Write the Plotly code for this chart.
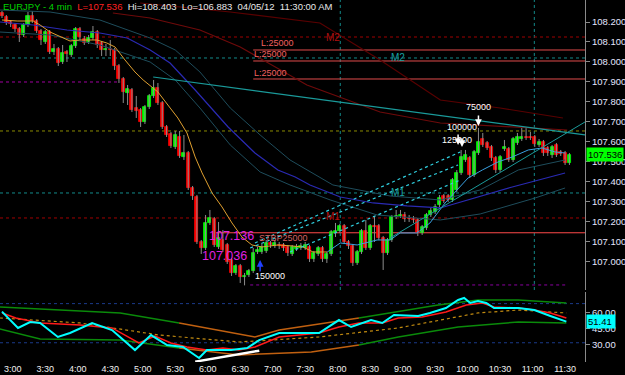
import plotly.graph_objects as go

# ---------------- price data (4-min bars) ----------------
open_ = [108.245,108.225,108.200,108.185,108.165,108.135,108.185,108.230,108.205,108.155,
         108.100,108.150,108.050,108.065,108.000,108.050,108.035,108.080,108.165,108.115,
         108.100,108.120,108.150,108.095,108.060,108.065,108.060,107.980,107.915,107.845,
         107.860,107.770,107.760,107.700,107.775,107.830,107.870,107.795,107.675,107.640,
         107.575,107.625,107.525,107.545,107.370,107.325,107.100,107.070,107.195,107.215,
         107.075,107.110,107.085,107.010,106.945,106.980,106.925,106.935,106.955,107.050,
         107.050,107.055,107.095,107.080,107.085,107.085,107.075,107.040,107.065,107.070,
         107.070,107.075,107.015,107.040,107.070,107.015,107.040,107.145,107.155,107.180,
         107.100,107.080,106.995,107.050,107.155,107.070,107.180,107.180,107.120,107.045,
         107.110,107.225,107.230,107.235,107.220,107.215,107.210,107.145,107.170,107.235,
         107.250,107.285,107.330,107.330,107.310,107.360,107.445,107.510,107.520,107.435,
         107.545,107.615,107.595,107.575,107.520,107.460,107.565,107.565,107.510,107.595,
         107.615,107.625,107.625,107.625,107.585,107.600,107.570,107.535,107.585,107.550,
         107.545,107.495]
close = [108.230,108.195,108.190,108.165,108.135,108.185,108.230,108.205,108.155,108.110,
         108.150,108.050,108.065,107.995,108.045,108.040,108.080,108.165,108.125,108.095,
         108.120,108.150,108.085,108.060,108.065,108.060,107.980,107.915,107.850,107.865,
         107.760,107.755,107.700,107.775,107.830,107.870,107.795,107.675,107.635,107.580,
         107.635,107.530,107.545,107.370,107.330,107.100,107.070,107.195,107.220,107.085,
         107.120,107.060,107.000,106.945,106.980,106.925,106.930,106.955,107.045,107.060,
         107.075,107.095,107.085,107.095,107.080,107.070,107.045,107.075,107.075,107.080,
         107.085,107.015,107.045,107.070,107.015,107.040,107.150,107.155,107.180,107.100,
         107.080,106.995,107.050,107.155,107.070,107.180,107.175,107.120,107.045,107.110,
         107.225,107.230,107.235,107.215,107.215,107.210,107.145,107.175,107.235,107.255,
         107.275,107.320,107.305,107.310,107.410,107.445,107.525,107.535,107.435,107.550,
         107.600,107.585,107.570,107.520,107.460,107.525,107.575,107.510,107.615,107.625,
         107.625,107.620,107.620,107.590,107.600,107.545,107.545,107.575,107.535,107.540,
         107.495,107.536]
high = [108.255,108.235,108.210,108.195,108.175,108.195,108.250,108.255,108.215,108.165,
        108.160,108.160,108.090,108.075,108.085,108.060,108.090,108.175,108.175,108.130,
        108.135,108.180,108.160,108.105,108.090,108.110,108.070,107.990,107.925,107.885,
        107.870,107.830,107.770,107.785,107.840,107.910,107.895,107.805,107.685,107.650,
        107.655,107.655,107.635,107.555,107.380,107.335,107.110,107.235,107.260,107.225,
        107.200,107.160,107.095,107.020,106.990,106.990,106.945,106.965,107.070,107.075,
        107.090,107.110,107.105,107.110,107.100,107.095,107.085,107.085,107.090,107.095,
        107.100,107.085,107.055,107.080,107.080,107.050,107.160,107.195,107.190,107.190,
        107.110,107.090,107.060,107.165,107.210,107.190,107.230,107.190,107.130,107.120,
        107.235,107.260,107.260,107.250,107.235,107.230,107.220,107.185,107.245,107.270,
        107.290,107.335,107.340,107.340,107.420,107.460,107.560,107.560,107.530,107.560,
        107.670,107.645,107.605,107.585,107.530,107.535,107.610,107.575,107.625,107.645,
        107.670,107.675,107.650,107.635,107.615,107.610,107.580,107.585,107.595,107.560,
        107.555,107.545]
low = [108.220,108.185,108.175,108.150,108.100,108.125,108.175,108.195,108.145,108.085,
       108.090,108.040,108.035,107.980,107.990,108.000,108.025,108.070,108.110,108.085,
       108.090,108.110,108.070,108.030,108.030,108.030,107.960,107.895,107.795,107.785,
       107.750,107.720,107.675,107.690,107.765,107.820,107.785,107.665,107.625,107.570,
       107.565,107.520,107.510,107.360,107.310,107.090,107.040,107.060,107.185,107.075,
       107.065,107.050,106.990,106.930,106.935,106.895,106.883,106.925,106.945,107.040,
       107.040,107.045,107.070,107.070,107.065,107.055,107.030,107.030,107.055,107.060,
       107.060,107.000,107.000,107.030,107.000,106.995,107.030,107.125,107.145,107.090,
       107.065,106.980,106.985,107.040,107.060,107.060,107.100,107.110,106.960,107.035,
       107.100,107.215,107.220,107.200,107.200,107.195,107.130,107.135,107.160,107.225,
       107.240,107.275,107.295,107.300,107.300,107.350,107.435,107.500,107.420,107.425,
       107.535,107.575,107.560,107.505,107.445,107.450,107.555,107.500,107.500,107.585,
       107.605,107.610,107.610,107.575,107.575,107.530,107.530,107.520,107.525,107.530,
       107.485,107.485]

first_bar_minute = 170          # 2:50
bar_minutes = 4
n = len(close)
bars = list(range(n))

time_labels = ["3:00","3:30","4:00","4:30","5:00","5:30","6:00","6:30","7:00","7:30",
               "8:00","8:30","9:00","9:30","10:00","10:30","11:00","11:30"]

def to_bar(lbl):
    h, m = lbl.split(":")
    return (int(h) * 60 + int(m) - first_bar_minute) / bar_minutes

# ---------------- overlay studies (bar position, value) ----------------
ma_fast_orange_x = [0,3.5,7.2,8.8,11.1,14.1,15.7,18.0,21.9,24.2,26.1,28.4,30.7,32.6,34.2,36.0,38.3,40.6,
                    42.7,44.6,46.2,48.5,50.8,53.1,55.4,57.7,60.0,63.7,67.0,69.5,71.8,75.1]
ma_fast_orange_y = [108.21,108.205,108.205,108.185,108.15,108.12,108.105,108.11,108.11,108.095,108.075,
                    108.01,107.95,107.91,107.88,107.85,107.785,107.72,107.645,107.525,107.445,107.345,
                    107.275,107.195,107.125,107.085,107.075,107.085,107.08,107.075,107.05,107.05]
ma_fast_blue_x = [75.1,78.1,82.0,85.0,86.6,89.6,91.9,95.8,98.8,102.3,107.6,110.9,114.5,117.8,121.5,124.7,127.7,130.0]
ma_fast_blue_y = [107.05,107.095,107.085,107.10,107.11,107.11,107.145,107.145,107.195,107.295,107.42,
                  107.46,107.50,107.525,107.56,107.57,107.55,107.545]
ma_blue_x = [-0.5,7.2,15.0,22.6,28.9,34.2,38.8,44.6,52.2,58.4,63.7,67.7,71.1,78.1,85.7,93.5,101.2,107.6,117.8,130.0]
ma_blue_y = [108.20,108.185,108.16,108.145,108.12,108.06,107.995,107.86,107.675,107.545,107.46,107.425,
             107.385,107.325,107.295,107.28,107.27,107.31,107.375,107.445]
ma_teal_up_x = [-0.5,11.1,22.6,34.2,40.0,45.7,52.7,59.6,66.5,76.4,89.6,101.2,110.4,119.2,130.0]
ma_teal_up_y = [108.26,108.25,108.21,108.12,108.06,107.95,107.77,107.635,107.51,107.385,107.33,107.31,
                107.36,107.46,107.51]
ma_teal_dn_x = [-0.5,11.1,22.6,34.2,40.0,45.7,52.7,59.6,66.5,75.8,86.6,101.2,110.4,123.1,130.0]
ma_teal_dn_y = [108.15,108.135,108.085,108.0,107.91,107.77,107.585,107.45,107.385,107.31,107.235,107.21,
                107.24,107.32,107.37]
ma_red_a_x = [25.6,34.2,45.7,55.0,70.4,87.3,101.2,115.0,130.5]
ma_red_a_y = [108.245,108.22,108.16,108.075,107.885,107.75,107.695,107.68,107.66]
ma_red_b_x = [31.9,52.7,73.4,87.3,101.2,115.0,129.5]
ma_red_b_y = [108.295,108.25,108.195,108.01,107.81,107.77,107.72]

# ---------------- oscillator panel ----------------
osc_x = [0,3.7,6.5,8.8,12.9,15.7,20.8,25.4,30.7,34.4,38.1,41.8,45.5,47.3,52.9,56.6,59.4,64.0,69.5,73.2,
         77.8,80.6,85.2,87.8,90.5,96.1,98.8,102.5,105.3,106.7,108.1,109.9,111.8,113.6,119.2,122.9,126.6,130.3]
osc_y = [60.6,45.6,51.1,50.2,37.3,41.0,50.2,43.7,25.3,39.1,29.9,28.1,18.0,25.3,25.3,27.2,34.5,41.0,41.0,41.0,
         52.9,46.5,52.9,50.2,57.5,56.6,59.4,64.0,71.3,73.2,68.6,70.4,68.6,64.0,64.0,62.1,56.6,51.41]
sig_x = [0,3.2,8.8,16.2,18.0,25.4,31.6,35.3,39.0,42.7,47.3,51.0,54.7,58.4,64.0,73.2,77.8,82.4,87.8,91.5,
         97.0,102.5,107.2,110.9,113.6,119.2,122.9,126.6,130.3]
sig_y = [59.4,54.8,50.2,48.3,48.3,45.6,31.8,38.2,31.8,28.1,25.3,27.2,25.3,28.1,37.3,41.0,46.5,50.2,50.2,54.8,
         55.7,60.3,66.7,68.6,64.9,64.0,62.1,59.4,54.8]
band_up_x = [-0.5,8.8,27.3,40.9,58.4,64.0,82.4,100.7,109.9,119.2,130.3]
band_up_y = [64.9,63.0,59.4,50.2,37.3,43.7,54.8,66.7,71.3,71.3,68.6]
band_dn_x = [-0.5,8.8,27.3,40.9,54.7,71.4,82.4,91.5,105.3,119.2,130.3]
band_dn_y = [44.6,35.4,34.5,27.2,20.8,23.5,29.9,37.3,46.5,51.1,50.2]
band_mid_x = [-0.5,18.0,36.3,54.7,73.2,91.5,109.9,119.2,130.3]
band_mid_y = [54.8,50.2,39.1,32.7,37.3,45.6,59.4,62.1,59.4]
diverg_x = [44.6,59.4]
diverg_y = [14.6,24.7]

# ---------------- levels ----------------
order_levels = [108.06, 108.005, 107.915]
entry_level = 107.146
price_ticks = [107.0,107.1,107.2,107.3,107.4,107.5,107.6,107.7,107.8,107.9,108.0,108.1,108.2]
osc_ticks = [30, 45, 60]
last_price = 107.536
last_osc = 51.41

X_RANGE = [-0.46, 134.6]
GREEN, RED = "#00ff00", "#ff0000"

fig = go.Figure()

# wicks
wx, wy = [], []
for i in bars:
    wx += [i, i, None]
    wy += [low[i], high[i], None]
fig.add_trace(go.Scatter(x=wx, y=wy, mode="lines", line=dict(color="#8c8c8c", width=1),
                         hoverinfo="skip", showlegend=False))

def line(x, y, color, width=1, dash=None, xa="x", ya="y"):
    fig.add_trace(go.Scatter(x=x, y=y, mode="lines", xaxis=xa, yaxis=ya,
                             line=dict(color=color, width=width, dash=dash),
                             hoverinfo="skip", showlegend=False))

line(ma_red_b_x, ma_red_b_y, "#5a0000", 1.2)
line(ma_red_a_x, ma_red_a_y, "#6e0a0a", 1.2)
line(ma_teal_up_x, ma_teal_up_y, "#1e4d5c", 1)
line(ma_teal_dn_x, ma_teal_dn_y, "#1e4d5c", 1)
line(ma_blue_x, ma_blue_y, "#2a2ab4", 1.2)

# bodies
colors = [GREEN if c >= o else RED for o, c in zip(open_, close)]
fig.add_trace(go.Bar(x=bars, y=[c - o for o, c in zip(open_, close)], base=open_, width=0.7,
                     marker=dict(color=colors, line=dict(color=colors, width=0.8)),
                     hoverinfo="skip", showlegend=False))

line(ma_fast_orange_x, ma_fast_orange_y, "#e0a030", 1)
line(ma_fast_blue_x, ma_fast_blue_y, "#3aa0e0", 1)

# trend lines
line([34.9, 134.6], [107.925, 107.635], "#1a9a9a", 1.2)
line([89.6, 134.6], [107.12, 107.70], "#1a9a9a", 1)
line([58.4, 105.8], [107.095, 107.55], "#30d0e0", 1.2, "dot")
line([57.3, 105.3], [107.07, 107.485], "#30d0e0", 1.2, "dot")
line([66.5, 105.8], [107.05, 107.41], "#30d0e0", 1.2, "dot")

# oscillator
XA, YA = "x2", "y2"
line(band_up_x[:4], band_up_y[:4], "#0a8a0a", 1.5, None, XA, YA)
line(band_up_x[3:7], band_up_y[3:7], "#c06010", 1.5, None, XA, YA)
line(band_up_x[6:], band_up_y[6:], "#0a8a0a", 1.5, None, XA, YA)
line(band_dn_x[:4], band_dn_y[:4], "#0a8a0a", 1.5, None, XA, YA)
line(band_dn_x[3:7], band_dn_y[3:7], "#c06010", 1.5, None, XA, YA)
line(band_dn_x[6:], band_dn_y[6:], "#0a8a0a", 1.5, None, XA, YA)
line(band_mid_x, band_mid_y, "#c08a10", 1.2, "dot", XA, YA)
line(sig_x, sig_y, "#ff1a1a", 1.5, None, XA, YA)
line(osc_x, osc_y, "#00ffff", 2, None, XA, YA)
line(diverg_x, diverg_y, "#ffffff", 2.5, None, XA, YA)

shapes = []
def hline(y, color, dash="dot", x0=None, x1=None, yref="y", width=1):
    shapes.append(dict(type="line", xref="x" if yref == "y" else "x2", yref=yref,
                       x0=X_RANGE[0] if x0 is None else x0, x1=X_RANGE[1] if x1 is None else x1,
                       y0=y, y1=y, line=dict(color=color, width=width, dash=dash), layer="below"))

hline(108.125, "#a00000")
hline(108.02, "#138a8a")
hline(107.90, "#a000a0", x1=27.3)
hline(107.655, "#8a8a00")
hline(107.345, "#138a8a")
hline(107.22, "#a00000")
hline(106.885, "#8a00a0", x0=57.3, x1=130.3)
for lv in order_levels:
    hline(lv, "#e04a4a", dash="solid", x0=58.0)
hline(entry_level, "#ff4a4a", dash="solid", x0=49.2)
hline(68, "#1a3a8a", yref="y2")
hline(32, "#1a3a8a", yref="y2")
for vx in [78.1, 122.9]:
    shapes.append(dict(type="line", xref="x", yref="y domain", x0=vx, x1=vx, y0=0, y1=1,
                       line=dict(color="#138a8a", width=1, dash="dot"), layer="below"))

FONT = "Arial, Liberation Sans, sans-serif"
ann = []
def txt(x, y, s, color, size=9, xa="x", ya="y", **kw):
    ann.append(dict(x=x, y=y, xref=xa, yref=ya, text=s, showarrow=False,
                    font=dict(family=FONT, size=size, color=color), **kw))

txt(76.4, 108.125, "M2", "#b01010", 10)
txt(91.5, 108.02, "M2", "#1aa0a0", 10)
txt(91.5, 107.345, "M1", "#1aa0a0", 10)
txt(76.4, 107.225, "M1", "#b01010", 10)
txt(63.7, 108.095, "L:25000", "#f06060", 9)
txt(62.1, 108.04, "L:25000", "#f06060", 9)
txt(61.9, 107.945, "L:25000", "#f06060", 9)
txt(53.1, 107.13, "107.136", "#e020e0", 12.5)
txt(51.3, 107.03, "107.036", "#e020e0", 12.5)
txt(58.8, 107.12, "STBP25000", "#d06060", 9, xanchor="left")
txt(61.9, 106.93, "150000", "#ffffff", 9)
txt(110.0, 107.775, "75000", "#ffffff", 9)
txt(106.2, 107.675, "100000", "#ffffff", 9)
txt(105.1, 107.61, "125000", "#ffffff", 9)

def arrow(x, y, color, ay):
    ann.append(dict(x=x, y=y, xref="x", yref="y", text="", showarrow=True, ax=0, ay=ay,
                    arrowhead=2, arrowsize=0.9, arrowwidth=1.5, arrowcolor=color))
arrow(110.0, 107.68, "#ffffff", -12)
arrow(105.3, 107.585, "#ffffff", -12)
arrow(106.2, 107.575, "#ffffff", -10)
arrow(59.6, 107.01, "#2040ff", 13)

# header
ann.append(dict(x=0, y=1, xref="paper", yref="paper", xanchor="left", yanchor="top", xshift=1, yshift=1,
                showarrow=False, align="left",
                text="<span style='color:#00d000'>EURJPY - 4 min</span>  "
                     "<span style='color:#ff2020'>L=107.536</span>  "
                     "<span style='color:#e8e8e8'>Hi=108.403  Lo=106.883  04/05/12  11:30:00 AM</span>",
                font=dict(family=FONT, size=9.5)))
# last value boxes
ann.append(dict(x=1, y=last_price, xref="paper", yref="y", xanchor="left", showarrow=False,
                text="107.536", bgcolor=GREEN, font=dict(family=FONT, size=9.5, color="#000000"),
                borderpad=1, xshift=1))
ann.append(dict(x=1, y=last_osc, xref="paper", yref="y2", xanchor="left", showarrow=False,
                text="51.41 ", bgcolor="#00ffff", font=dict(family=FONT, size=9.5, color="#000000"),
                borderpad=1, xshift=1))

axfont = dict(family=FONT, size=9.5, color="#e4e6ff")
fig.update_layout(
    width=625, height=375, margin=dict(l=0, r=40, t=0, b=13),
    paper_bgcolor="#000000", plot_bgcolor="#000000", showlegend=False, bargap=0,
    xaxis=dict(domain=[0, 1], range=X_RANGE, anchor="y", showticklabels=False, showgrid=False,
               zeroline=False, showline=False),
    yaxis=dict(domain=[0.199, 1], range=[106.86, 108.31], side="right", tickvals=price_ticks,
               ticktext=[f"{v:.3f}" for v in price_ticks], tickfont=axfont, showgrid=False,
               zeroline=False, showline=True, linecolor="#8a8a8a", ticks="outside", ticklen=4,
               tickcolor="#8a8a8a"),
    xaxis2=dict(domain=[0, 1], range=X_RANGE, anchor="y2", tickvals=[to_bar(t) for t in time_labels],
                ticktext=time_labels, tickfont=dict(family=FONT, size=9, color="#f0f0f0"),
                showgrid=False, zeroline=False, showline=False, ticks=""),
    yaxis2=dict(domain=[0, 0.1934], range=[14.3, 78.7], side="right", tickvals=osc_ticks,
                ticktext=[f"{v:.2f}" for v in osc_ticks], tickfont=axfont, showgrid=False,
                zeroline=False, showline=True, linecolor="#8a8a8a", ticks="outside", ticklen=4,
                tickcolor="#8a8a8a"),
    shapes=shapes, annotations=ann,
)

fig.write_html("out.html")
